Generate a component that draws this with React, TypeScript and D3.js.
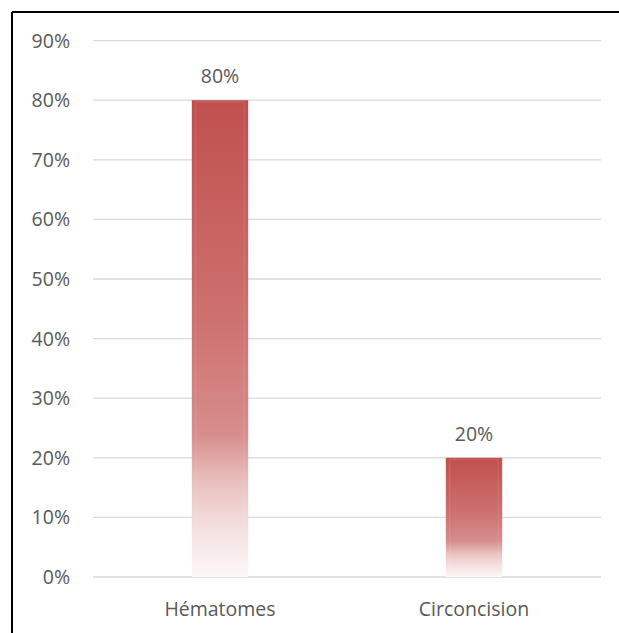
import React from "react";
import * as d3 from "d3";

const categories = ["Hématomes", "Circoncision"];
const values = [80, 20];
const yTicks = [0, 10, 20, 30, 40, 50, 60, 70, 80, 90];

const W = 619;
const H = 633;
const plot = { left: 93, right: 601, top: 40.6, bottom: 577 };
const font = "'Open Sans', 'Liberation Sans', sans-serif";
const textColor = "#595959";

export default function App() {
  const x = d3
    .scaleBand<string>()
    .domain(categories)
    .range([plot.left, plot.right])
    .padding(0);
  const y = d3.scaleLinear().domain([0, 90]).range([plot.bottom, plot.top]);
  const barW = x.bandwidth() * 0.222;

  return (
    <svg
      width={W}
      height={H}
      style={{ position: "absolute", left: 0, top: 0, background: "#fff" }}
    >
      <defs>
        <linearGradient id="barFill" x1="0" y1="0" x2="0" y2="1">
          <stop offset="0" stopColor="rgb(192,80,77)" />
          <stop offset="0.45" stopColor="rgb(205,112,110)" />
          <stop offset="0.7" stopColor="rgb(214,142,141)" />
          <stop offset="0.8" stopColor="rgb(233,192,191)" />
          <stop offset="0.9" stopColor="rgb(244,224,224)" />
          <stop offset="1" stopColor="rgb(253,247,247)" />
        </linearGradient>
      </defs>

      {/* frame */}
      <line x1={12} x2={W} y1={12} y2={12} stroke="#000" strokeWidth={2} />
      <line x1={12} x2={12} y1={12} y2={H} stroke="#000" strokeWidth={2} />

      {/* gridlines */}
      {yTicks.map((t) => (
        <line
          key={t}
          x1={plot.left}
          x2={plot.right}
          y1={y(t)}
          y2={y(t)}
          stroke="#d9d9d9"
          strokeWidth={1.3}
        />
      ))}

      {/* y tick labels */}
      {yTicks.map((t) => (
        <text
          key={t}
          x={70}
          y={y(t)}
          dy="0.36em"
          textAnchor="end"
          fontFamily={font}
          fontSize={19.5}
          fill={textColor}
        >
          {t}%
        </text>
      ))}

      {/* bars */}
      {categories.map((c, i) => {
        const cx = (x(c) as number) + x.bandwidth() / 2;
        const top = y(values[i]);
        const h = y(0) - top;
        return (
          <g key={c}>
            <rect
              x={cx - barW / 2}
              y={top}
              width={barW}
              height={h}
              fill="url(#barFill)"
            />
            <rect
              x={cx - barW / 2 + 4}
              y={top + 1.5}
              width={barW - 8}
              height={h - 1.5}
              fill="none"
              stroke="rgba(255,255,255,0.12)"
              strokeWidth={1}
            />
            <text
              x={cx}
              y={top - 17}
              textAnchor="middle"
              fontFamily={font}
              fontSize={19.5}
              fill={textColor}
            >
              {values[i]}%
            </text>
            <text
              x={cx}
              y={616}
              textAnchor="middle"
              fontFamily={font}
              fontSize={19.5}
              fill={textColor}
            >
              {c}
            </text>
          </g>
        );
      })}
    </svg>
  );
}
